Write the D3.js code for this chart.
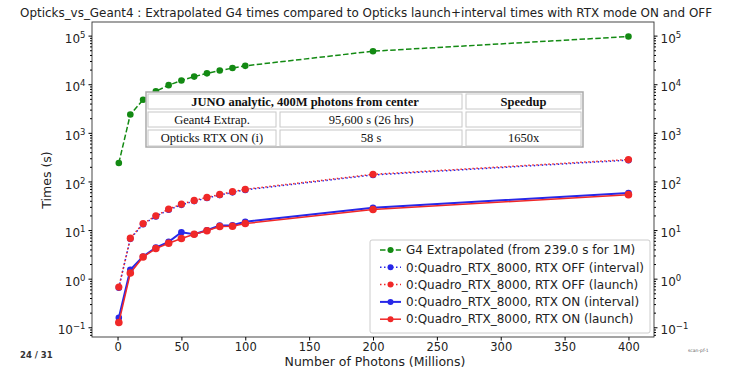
<!DOCTYPE html>
<html>
<head>
<meta charset="utf-8">
<script src="https://cdn.jsdelivr.net/npm/d3@7"></script>
<style>
  body { margin: 0; background: #fff; }
  svg { font-family: "DejaVu Sans", sans-serif; }
</style>
</head>
<body>
<svg width="730" height="371"></svg>
<script>
// photons in millions
const photons = [1, 10, 20, 30, 40, 50, 60, 70, 80, 90, 100, 200, 400];

const g4Extrap = [239, 2390, 4780, 7170, 9560, 11950, 14340, 16730, 19120, 21510, 23900, 47800, 95600];
const offInterval = [0.65, 6.6, 13.2, 19.0, 26.2, 33, 39.4, 45.6, 52.4, 59.6, 67, 136, 274];
const offLaunch = [0.67, 6.8, 13.6, 19.6, 27, 34, 40.6, 47, 54, 61.5, 69, 140, 282];
const onInterval = [0.157, 1.53, 2.85, 4.37, 5.7, 9.0, 8.2, 9.9, 12.4, 12.6, 14.8, 28.7, 58];
const onLaunch = [0.125, 1.31, 2.8, 4.16, 5.35, 6.7, 8.2, 9.7, 11.8, 12.0, 13.6, 26.5, 53.5];

const seriesNames = [
  "G4 Extrapolated (from 239.0 s for 1M)",
  "0:Quadro_RTX_8000, RTX OFF (interval)",
  "0:Quadro_RTX_8000, RTX OFF (launch)",
  "0:Quadro_RTX_8000, RTX ON (interval)",
  "0:Quadro_RTX_8000, RTX ON (launch)"
];

const xTicks = [0, 50, 100, 150, 200, 250, 300, 350, 400];
const yExponents = [-1, 0, 1, 2, 3, 4, 5];

const tableHeader = ["JUNO analytic, 400M photons from center", "Speedup"];
const tableRows = [
  ["Geant4 Extrap.", "95,600 s (26 hrs)", ""],
  ["Opticks RTX ON (i)", "58 s", "1650x"]
];

const plotLeft = 92, plotRight = 654, plotTop = 22, plotBottom = 337;

const svg = d3.select('svg');

const x = d3.scaleLinear().domain([-20, 420]).range([plotLeft, plotRight]);
const y = d3.scaleLog().domain([Math.pow(10, -1.2), Math.pow(10, 5.28)]).range([plotBottom, plotTop]);

const GREEN = '#138a13', BLUE = '#2828e8', RED = '#f02828';

const series = [
  { values: g4Extrap, color: GREEN, dash: '5.5,2.4', width: 1.5, r: 3.3 },
  { values: offInterval, color: BLUE, dash: '1.5,2.5', width: 1.5, r: 3.3 },
  { values: offLaunch, color: RED, dash: '1.5,2.5', width: 1.5, r: 3.6, offset: 1.5 },
  { values: onInterval, color: BLUE, dash: null, width: 2, r: 3.3 },
  { values: onLaunch, color: RED, dash: null, width: 1.5, r: 3.8 }
];

// frame
svg.append('rect')
  .attr('x', plotLeft).attr('y', plotTop)
  .attr('width', plotRight - plotLeft).attr('height', plotBottom - plotTop)
  .attr('fill', 'none').attr('stroke', '#333').attr('stroke-width', 0.9);

// lines + markers
const line = d3.line()
  .x((d, i) => x(photons[i]))
  .y(d => y(d));

series.forEach(s => {
  svg.append('path')
    .datum(s.values)
    .attr('d', line)
    .attr('fill', 'none')
    .attr('stroke', s.color)
    .attr('stroke-width', s.width)
    .attr('stroke-dasharray', s.dash)
    .attr('stroke-dashoffset', s.offset || 0);
  svg.selectAll(null)
    .data(s.values)
    .enter()
    .append('circle')
    .attr('cx', (d, i) => x(photons[i]))
    .attr('cy', d => y(d))
    .attr('r', s.r)
    .attr('fill', s.color);
});

// x axis
const xAxis = svg.append('g')
  .attr('transform', `translate(0,${plotBottom})`)
  .call(d3.axisBottom(x).tickValues(xTicks).tickSize(3.5).tickPadding(2));
xAxis.select('.domain').remove();
xAxis.selectAll('text').attr('font-size', 11.5).attr('fill', '#222')
  .attr('font-family', 'DejaVu Sans');

// y axes (left and right), majors and minors
const minors = [];
for (let e = -2; e <= 5; e++) {
  for (let m = 2; m <= 9; m++) {
    const v = m * Math.pow(10, e);
    if (v >= y.domain()[0] && v <= y.domain()[1]) minors.push(v);
  }
}
const majors = yExponents.map(e => Math.pow(10, e));

function supLabels(sel) {
  sel.selectAll('text').each(function(d) {
    const t = d3.select(this);
    const e = Math.round(Math.log10(d));
    t.text(null).attr('font-size', 12).attr('fill', '#222').attr('font-family', 'DejaVu Sans');
    t.append('tspan').text('10');
    t.append('tspan').text(e < 0 ? '\u2212' + Math.abs(e) : e)
      .attr('font-size', 8.5).attr('dy', -5);
  });
}

const yLeft = svg.append('g').attr('transform', `translate(${plotLeft},0)`);
yLeft.append('g').call(d3.axisLeft(y).tickValues(minors).tickSize(2).tickFormat(''))
  .select('.domain').remove();
const yLeftMaj = yLeft.append('g').call(d3.axisLeft(y).tickValues(majors).tickSize(3.5).tickPadding(3));
yLeftMaj.select('.domain').remove();
supLabels(yLeftMaj);
yLeftMaj.selectAll('text').attr('dy', '0.55em');

const yRight = svg.append('g').attr('transform', `translate(${plotRight},0)`);
yRight.append('g').call(d3.axisRight(y).tickValues(minors).tickSize(2).tickFormat(''))
  .select('.domain').remove();
const yRightMaj = yRight.append('g').call(d3.axisRight(y).tickValues(majors).tickSize(3.5).tickPadding(3));
yRightMaj.select('.domain').remove();
supLabels(yRightMaj);
yRightMaj.selectAll('text').attr('dy', '0.55em');

// axis labels and title
svg.append('text')
  .attr('x', (plotLeft + plotRight) / 2 + 2).attr('y', 366)
  .attr('text-anchor', 'middle').attr('font-size', 12.5).attr('fill', '#222')
  .text('Number of Photons (Millions)');

svg.append('text')
  .attr('transform', 'translate(51,180) rotate(-90)')
  .attr('text-anchor', 'middle').attr('font-size', 12.5).attr('fill', '#222')
  .text('Times (s)');

svg.append('text')
  .attr('x', 366).attr('y', 17)
  .attr('text-anchor', 'middle').attr('font-size', 12).attr('fill', '#222')
  .attr('textLength', 692).attr('lengthAdjust', 'spacingAndGlyphs')
  .text('Opticks_vs_Geant4 : Extrapolated G4 times compared to Opticks launch+interval times with RTX mode ON and OFF');

// legend
const legend = svg.append('g').attr('transform', 'translate(370,240)');
legend.append('rect')
  .attr('width', 280).attr('height', 93).attr('rx', 2)
  .attr('fill', '#fff').attr('fill-opacity', 0.85)
  .attr('stroke', '#ccc');
series.forEach((s, i) => {
  const ly = 10 + i * 17.3;
  legend.append('line')
    .attr('x1', 10).attr('x2', 31).attr('y1', ly).attr('y2', ly)
    .attr('stroke', s.color).attr('stroke-width', s.width)
    .attr('stroke-dasharray', s.dash);
  legend.append('circle').attr('cx', 20.5).attr('cy', ly).attr('r', 3).attr('fill', s.color);
  legend.append('text')
    .attr('x', 36).attr('y', ly + 4.2)
    .attr('font-size', 12).attr('fill', '#222')
    .text(seriesNames[i]);
});

// table overlay
const tbl = svg.append('g').attr('font-family', '"Liberation Serif", "Times New Roman", serif')
  .attr('font-size', 12.5).attr('fill', '#111');
const colX = [146, 278, 464, 583];
const rowY = [92, 110, 128, 147];
tbl.append('rect')
  .attr('x', colX[0]).attr('y', rowY[0])
  .attr('width', colX[3] - colX[0]).attr('height', rowY[3] - rowY[0])
  .attr('fill', '#fff').attr('stroke', '#aaa').attr('stroke-width', 1.5);

function cell(x0, x1, y0, y1, txt, bold) {
  tbl.append('rect')
    .attr('x', x0 + 2).attr('y', y0 + 2)
    .attr('width', x1 - x0 - 4).attr('height', y1 - y0 - 3)
    .attr('fill', '#fff').attr('stroke', '#c8c8c8').attr('stroke-width', 1);
  tbl.append('text')
    .attr('x', (x0 + x1) / 2).attr('y', (y0 + y1) / 2 + 4.8)
    .attr('text-anchor', 'middle')
    .attr('font-weight', bold ? 'bold' : 'normal')
    .text(txt);
}
cell(colX[0], colX[2], rowY[0], rowY[1], tableHeader[0], true);
cell(colX[2], colX[3], rowY[0], rowY[1], tableHeader[1], true);
tableRows.forEach((r, i) => {
  r.forEach((txt, j) => cell(colX[j], colX[j + 1], rowY[i + 1], rowY[i + 2], txt, false));
});

// page footer bits
svg.append('text').attr('x', 20).attr('y', 358)
  .attr('font-size', 8.5).attr('font-weight', 'bold').attr('fill', '#333')
  .text('24 / 31');
svg.append('text').attr('x', 688).attr('y', 352)
  .attr('font-size', 4.5).attr('fill', '#666')
  .text('scan-pf-1');
</script>
</body>
</html>
